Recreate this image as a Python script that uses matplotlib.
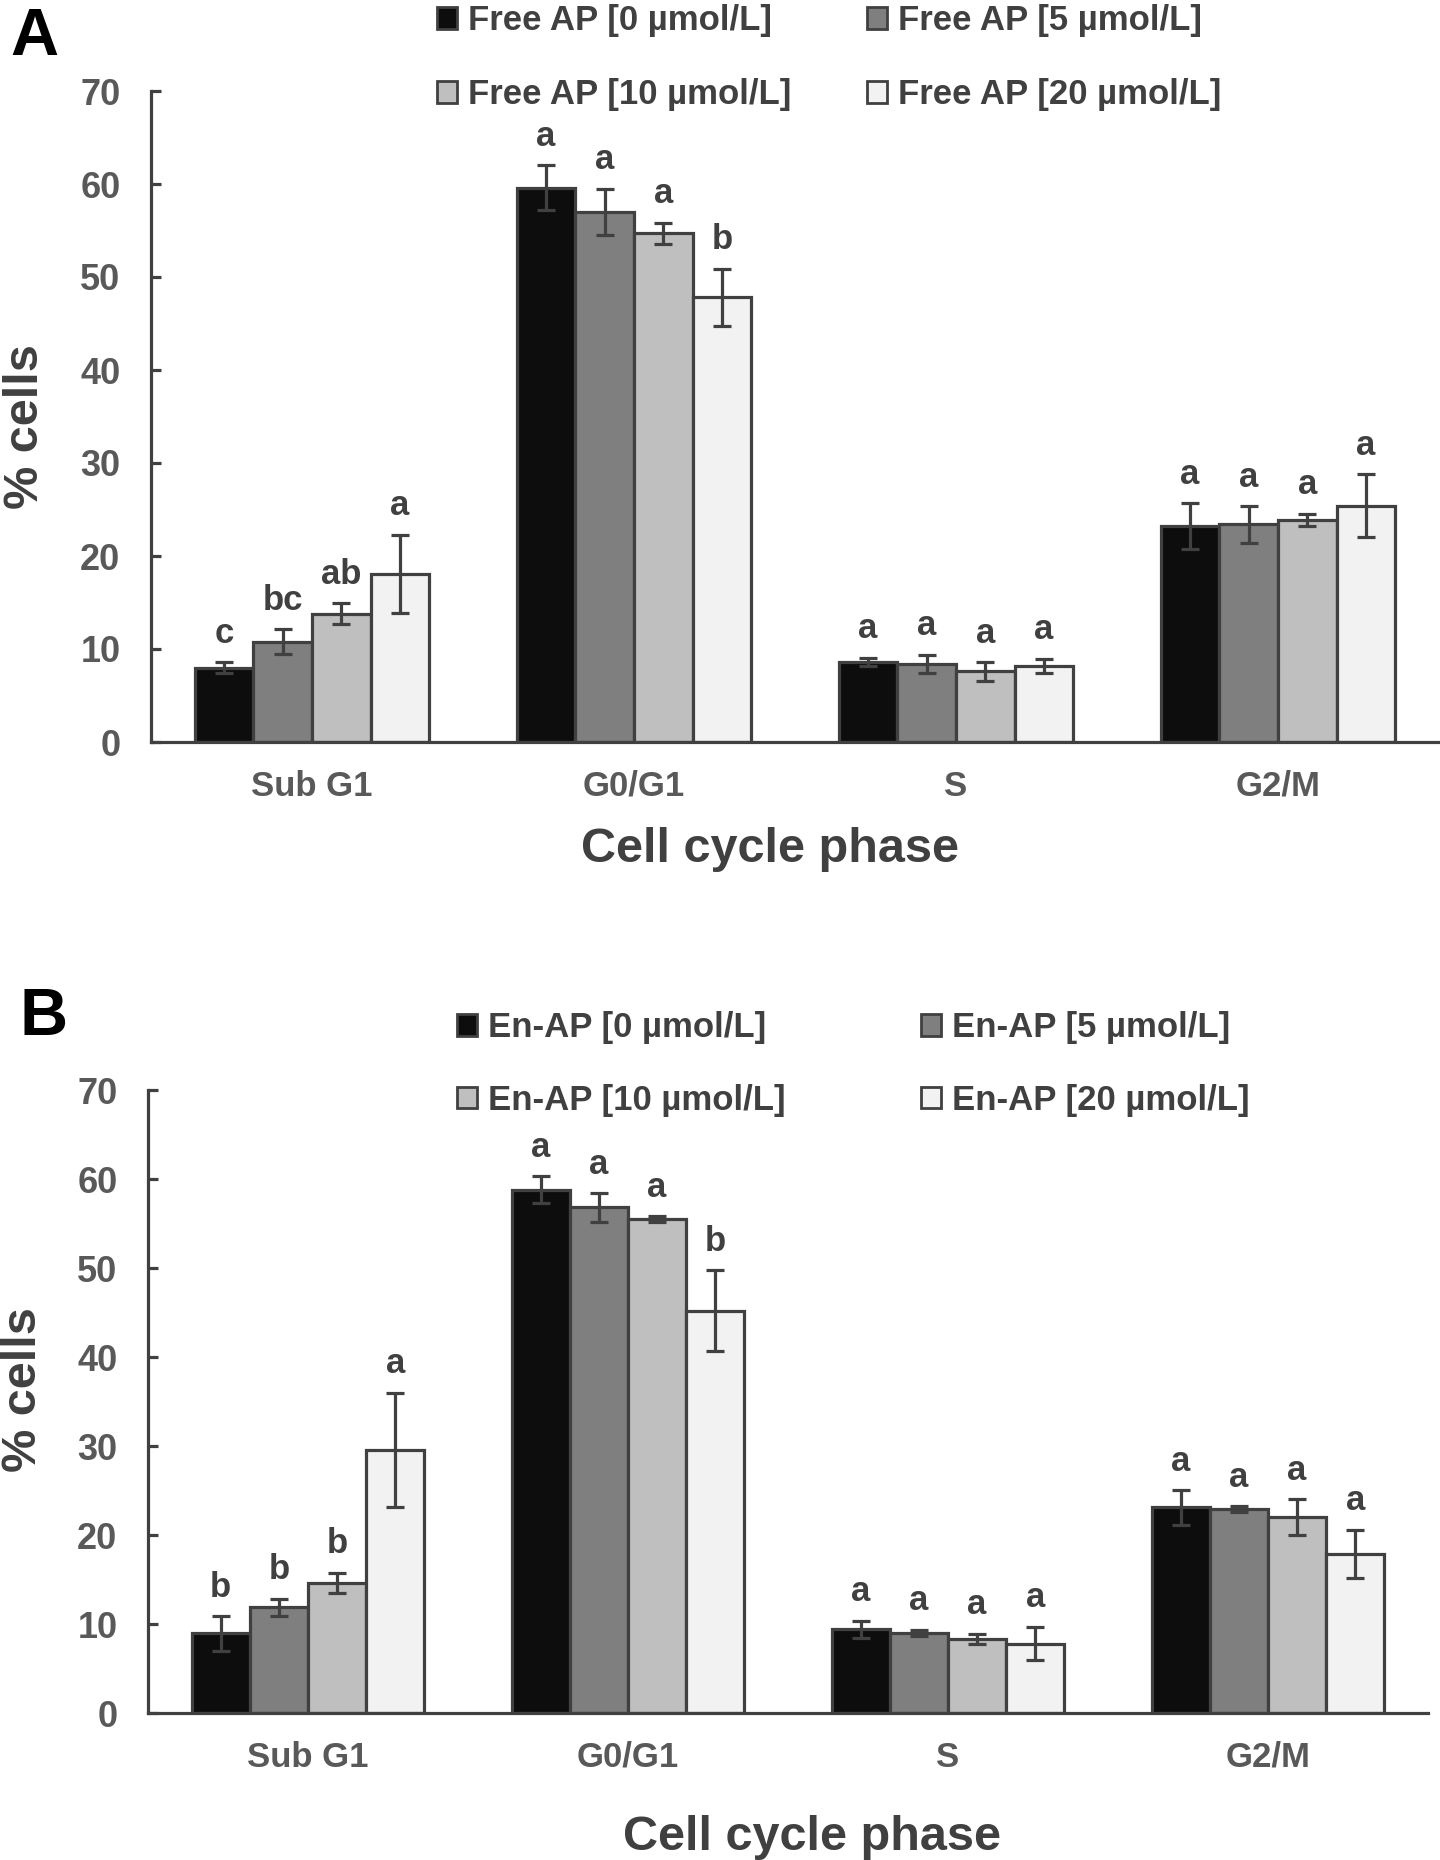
import numpy as np
import matplotlib.pyplot as plt
from matplotlib.patches import Patch

plt.rcParams['font.family'] = ['Liberation Sans', 'DejaVu Sans']
plt.rcParams['font.weight'] = 'bold'

# data
phases = ['Sub G1', 'G0/G1', 'S', 'G2/M']
conc = ['0', '5', '10', '20']
free_labels = ['Free AP [%s µmol/L]' % c for c in conc]
en_labels = ['En-AP [%s µmol/L]' % c for c in conc]

# one row per concentration, one value per phase
free_means = [[8.0, 59.6, 8.6, 23.2],
              [10.8, 57.0, 8.4, 23.4],
              [13.8, 54.7, 7.6, 23.9],
              [18.1, 47.8, 8.2, 25.4]]
free_err = [[0.6, 2.4, 0.45, 2.5],
            [1.3, 2.5, 1.0, 1.95],
            [1.1, 1.15, 1.0, 0.65],
            [4.2, 3.1, 0.75, 3.4]]
free_letters = [['c', 'a', 'a', 'a'],
                ['bc', 'a', 'a', 'a'],
                ['ab', 'a', 'a', 'a'],
                ['a', 'b', 'a', 'a']]

en_means = [[8.95, 58.8, 9.4, 23.1],
            [11.9, 56.8, 9.0, 22.9],
            [14.6, 55.5, 8.3, 22.0],
            [29.6, 45.2, 7.8, 17.9]]
en_err = [[1.95, 1.5, 0.95, 1.95],
          [0.95, 1.6, 0.35, 0.35],
          [1.15, 0.3, 0.6, 2.0],
          [6.4, 4.55, 1.9, 2.7]]
en_letters = [['b', 'a', 'a', 'a'],
              ['b', 'a', 'a', 'a'],
              ['b', 'a', 'a', 'a'],
              ['a', 'b', 'a', 'a']]

colors = ['#0d0d0d', '#7f7f7f', '#bfbfbf', '#f2f2f2']
dark = '#404040'
grey = '#595959'

W, H = 1440, 1860
fig = plt.figure(figsize=(W / 100, H / 100), dpi=100)


def px(x0, y0, x1, y1):
    # pixel box -> figure fraction [left, bottom, width, height]
    return [x0 / W, 1 - y1 / H, (x1 - x0) / W, (y1 - y0) / H]


def panel(rect, means, errs, letters):
    ax = fig.add_axes(rect)
    bw = 0.182
    x = np.arange(len(phases))
    for i in range(4):
        xi = x + (i - 1.5) * bw
        ax.bar(xi, means[i], bw, color=colors[i], edgecolor=dark,
               linewidth=2.3, zorder=2)
        ax.errorbar(xi, means[i], yerr=errs[i], fmt='none', ecolor=dark,
                    elinewidth=2.3, capsize=6.5, capthick=2.3, zorder=3)
        for j in range(len(phases)):
            ax.annotate(letters[i][j], (xi[j], means[i][j] + errs[i][j]),
                        xytext=(0, 14), textcoords='offset points',
                        ha='center', va='baseline', fontsize=25, color=dark)
    ax.set_xlim(-0.5, 3.5)
    ax.set_ylim(0, 70)
    ax.set_yticks(range(0, 71, 10))
    ax.set_xticks(x)
    ax.set_xticklabels(phases)
    for s in ['top', 'right']:
        ax.spines[s].set_visible(False)
    for s in ['left', 'bottom']:
        ax.spines[s].set_color(dark)
        ax.spines[s].set_linewidth(2.3)
    ax.tick_params(axis='y', direction='in', length=7, width=2.3, color=dark,
                   pad=22, labelsize=26, labelcolor=grey)
    ax.tick_params(axis='x', length=0, pad=20, labelsize=25, labelcolor=grey)
    return ax


def legend(labels, xs, y, spacing):
    hs = [Patch(facecolor=colors[i], edgecolor=dark, linewidth=2) for i in range(4)]
    for col, xpos in enumerate(xs):
        idx = [col, col + 2]
        lg = fig.legend([hs[k] for k in idx], [labels[k] for k in idx],
                        loc='upper left', bbox_to_anchor=(xpos / W, 1 - y / H),
                        frameon=False, fontsize=25, handlelength=0.58,
                        handleheight=0.58, handletextpad=0.3, borderpad=0,
                        borderaxespad=0, labelspacing=spacing)
        for t in lg.get_texts():
            t.set_color(dark)


# panel A
panel(px(151, 91, 1439, 742), free_means, free_err, free_letters)
legend(free_labels, [437, 867], 4, 1.19)
fig.text(770 / W, 1 - 849 / H, 'Cell cycle phase', ha='center', va='center',
         fontsize=35, color=dark)
fig.text(25 / W, 1 - 427 / H, '% cells', ha='center', va='center',
         rotation=90, fontsize=35, color=dark)
fig.text(10 / W, 1 - 55 / H, 'A', ha='left', va='baseline', fontsize=48,
         color='black')

# panel B
panel(px(148, 1090, 1428, 1713), en_means, en_err, en_letters)
legend(en_labels, [457, 921], 1011, 1.14)
fig.text(812 / W, 1 - 1837 / H, 'Cell cycle phase', ha='center', va='center',
         fontsize=35, color=dark)
fig.text(23 / W, 1 - 1390 / H, '% cells', ha='center', va='center',
         rotation=90, fontsize=35, color=dark)
fig.text(20 / W, 1 - 1035 / H, 'B', ha='left', va='baseline', fontsize=48,
         color='black')

fig.savefig('out.png', dpi=100)
